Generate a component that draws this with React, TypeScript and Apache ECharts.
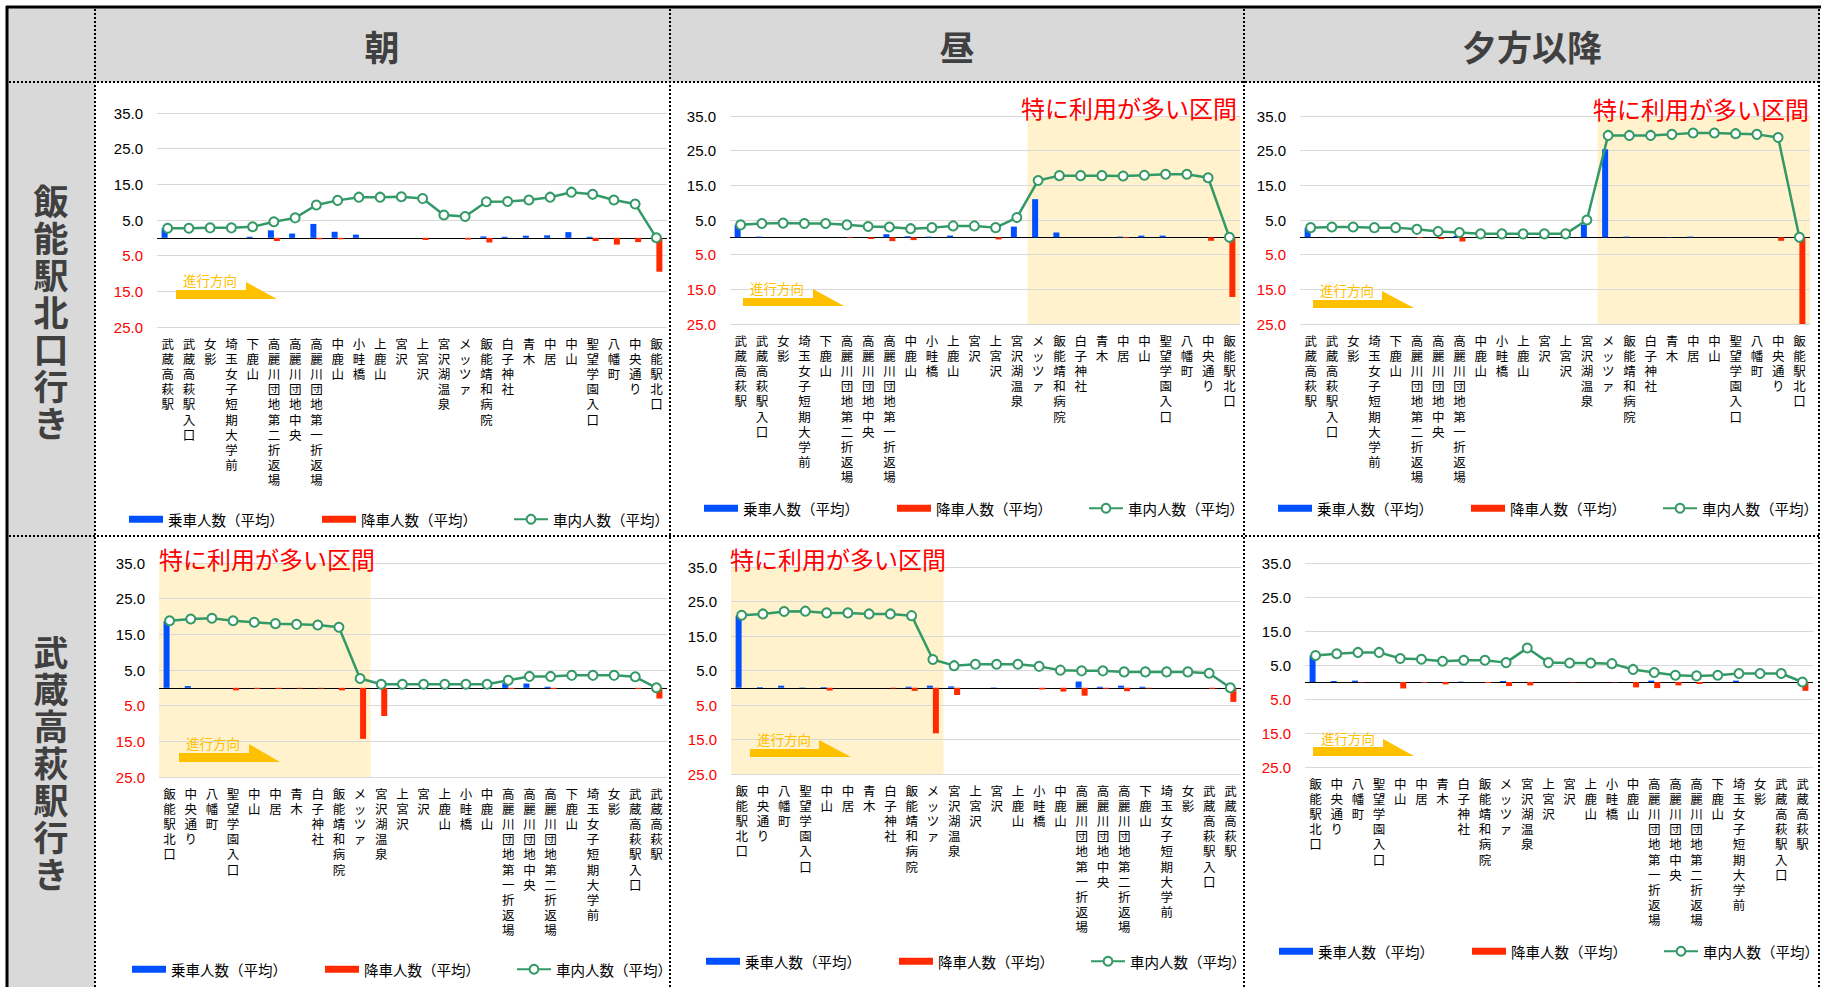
import React, { useEffect, useRef } from 'react';
import * as echarts from 'echarts';

const stationsToHanno = ['武蔵高萩駅','武蔵高萩駅入口','女影','埼玉女子短期大学前','下鹿山','高麗川団地第二折返場','高麗川団地中央','高麗川団地第一折返場','中鹿山','小畦橋','上鹿山','宮沢','上宮沢','宮沢湖温泉','メッツァ','飯能靖和病院','白子神社','青木','中居','中山','聖望学園入口','八幡町','中央通り','飯能駅北口'];
const stationsToMusashi = ['飯能駅北口','中央通り','八幡町','聖望学園入口','中山','中居','青木','白子神社','飯能靖和病院','メッツァ','宮沢湖温泉','上宮沢','宮沢','上鹿山','小畦橋','中鹿山','高麗川団地第一折返場','高麗川団地中央','高麗川団地第二折返場','下鹿山','埼玉女子短期大学前','女影','武蔵高萩駅入口','武蔵高萩駅'];

const timeBands = ['朝', '昼', '夕方以降'];
const directions = ['飯能駅北口行き', '武蔵高萩駅行き'];
const seriesNames = ['乗車人数（平均）', '降車人数（平均）', '車内人数（平均）'];
const yTickLabels = [35, 25, 15, 5, -5, -15, -25];
const highlightLabel = '特に利用が多い区間';
const directionLabel = '進行方向';

// 朝・飯能駅北口行き
const morningHannoLoad = [2.7,2.7,2.8,2.8,3.1,4.5,5.6,9.2,10.5,11.4,11.4,11.5,11.0,6.4,6.0,10.1,10.2,10.6,11.4,12.8,12.2,10.6,9.5,0];
const morningHannoBoard = [2.7,0,0,0,0.3,2.1,1.2,3.9,1.7,0.9,0,0,0,0,0,0.4,0.3,0.6,0.7,1.6,0.3,0,0,0];
const morningHannoAlight = [0,0,0,0,0,0.9,0,0.4,0.4,0,0,0,0.6,0,0.5,1.3,0,0,0,0,0.9,1.9,1.2,9.5];
// 昼・飯能駅北口行き
const noonHannoLoad = [3.6,4.0,4.1,4.0,4.0,3.6,3.1,3.0,2.5,2.8,3.3,3.3,2.8,5.7,16.4,17.8,17.8,17.8,17.7,17.9,18.2,18.2,17.2,0];
const noonHannoBoard = [3.6,0.2,0,0,0,0,0,0.9,0.3,0.2,0.5,0,0,3.1,11.0,1.4,0,0,0.2,0.5,0.5,0,0,0];
const noonHannoAlight = [0,0,0,0,0,0.2,0.5,1.1,0.8,0,0,0,0.6,0,0,0,0,0,0.2,0,0,0,1.0,17.2];
// 夕方以降・飯能駅北口行き
const eveningHannoLoad = [2.8,3.0,3.0,2.8,2.8,2.3,1.7,1.4,1.0,1.0,1.0,1.0,1.0,5.0,29.4,29.4,29.4,29.7,30.1,30.1,29.9,29.7,28.8,0];
const eveningHannoBoard = [2.8,0.1,0,0,0,0,0,0.4,0,0,0,0,0,3.7,25.4,0.2,0,0.1,0.2,0,0,0,0,0];
const eveningHannoAlight = [0,0,0,0,0,0.2,0.5,1.2,0.1,0,0,0,0,0,0,0,0,0,0,0,0,0,1.0,28.8];
// 朝・武蔵高萩駅行き
const morningMusashiLoad = [18.8,19.3,19.5,18.8,18.4,18.0,17.8,17.6,17.0,2.6,1.0,1.0,1.0,1.0,1.0,1.0,2.1,3.2,3.2,3.5,3.5,3.5,3.1,0];
const morningMusashiBoard = [18.7,0.5,0,0,0,0,0,0,0,0,0,0,0,0,0,0,1.3,1.2,0.3,0,0,0,0,0];
const morningMusashiAlight = [0,0,0,0.7,0.3,0.3,0.2,0.2,0.7,14.3,7.9,0,0,0,0,0,0.3,0,0.3,0,0,0,0.3,3.0];
// 昼・武蔵高萩駅行き
const noonMusashiLoad = [21.0,21.4,22.1,22.2,21.7,21.7,21.4,21.4,20.9,8.2,6.4,6.8,6.8,6.8,6.2,5.1,4.9,4.9,4.6,4.6,4.6,4.6,4.2,0];
const noonMusashiBoard = [20.9,0.2,0.6,0.1,0.2,0,0,0,0.3,0.6,0.4,0,0.1,0,0,0,1.8,0.3,0.6,0.3,0,0,0,0];
const noonMusashiAlight = [0,0,0,0,0.8,0,0,0.2,0.9,13.2,2.1,0,0,0,0.5,1.1,2.3,0.3,1.0,0.2,0,0,0.3,4.1];
// 夕方以降・武蔵高萩駅行き
const eveningMusashiLoad = [7.8,8.3,8.7,8.7,6.9,6.7,6.1,6.4,6.4,5.7,10.0,5.7,5.6,5.6,5.4,3.7,2.8,2.0,1.8,2.0,2.5,2.5,2.5,0];
const eveningMusashiBoard = [7.8,0.3,0.4,0,0,0,0,0.1,0,0.3,0,0,0,0,0,0,0.4,0,0,0,0.4,0,0,0];
const eveningMusashiAlight = [0,0,0.1,0,1.9,0.2,0.7,0,0.3,1.2,1.0,0,0.1,0,0.1,1.6,1.8,1.0,0.6,0,0,0,0,2.6];

const BLUE = '#0050FF';
const RED = '#FF2A00';
const GREEN = '#339966';
const ORANGE = '#FFC000';
const JP = '"Noto Sans CJK JP", sans-serif';
const JP_LABEL = '"Liberation Sans", "Noto Sans CJK JP", sans-serif';

const panels = [
  { stations: stationsToHanno, load: morningHannoLoad, board: morningHannoBoard, alight: morningHannoAlight, hl: null,
    grid: { left: 157, top: 113, width: 510, height: 214 }, legend: [129, 520],
    arrow: { l: 176, r: 246, t: 290, b: 299, tt: 282, tip: 277, tx: 183, ty: 280 }, note: null },
  { stations: stationsToHanno, load: noonHannoLoad, board: noonHannoBoard, alight: noonHannoAlight, hl: ['メッツァ', '飯能駅北口'],
    grid: { left: 730, top: 116, width: 510, height: 208 }, legend: [704, 509],
    arrow: { l: 743, r: 813, t: 298, b: 306, tt: 289, tip: 844, tx: 750, ty: 288 }, note: { x: 1237, y: 107, align: 'right' } },
  { stations: stationsToHanno, load: eveningHannoLoad, board: eveningHannoBoard, alight: eveningHannoAlight, hl: ['メッツァ', '飯能駅北口'],
    grid: { left: 1300, top: 116, width: 510, height: 208 }, legend: [1278, 509],
    arrow: { l: 1313, r: 1382, t: 300, b: 308, tt: 291, tip: 1414, tx: 1320, ty: 290 }, note: { x: 1809, y: 108, align: 'right' } },
  { stations: stationsToMusashi, load: morningMusashiLoad, board: morningMusashiBoard, alight: morningMusashiAlight, hl: ['飯能駅北口', 'メッツァ'],
    grid: { left: 159, top: 563, width: 508, height: 214 }, legend: [132, 970],
    arrow: { l: 179, r: 249, t: 753, b: 762, tt: 744, tip: 280, tx: 186, ty: 743 }, note: { x: 159, y: 558, align: 'left' } },
  { stations: stationsToMusashi, load: noonMusashiLoad, board: noonMusashiBoard, alight: noonMusashiAlight, hl: ['飯能駅北口', 'メッツァ'],
    grid: { left: 731, top: 567, width: 510, height: 207 }, legend: [706, 962],
    arrow: { l: 750, r: 819, t: 749, b: 757, tt: 740, tip: 851, tx: 757, ty: 739 }, note: { x: 730, y: 558, align: 'left' } },
  { stations: stationsToMusashi, load: eveningMusashiLoad, board: eveningMusashiBoard, alight: eveningMusashiAlight, hl: null,
    grid: { left: 1305, top: 563, width: 508, height: 204 }, legend: [1279, 952],
    arrow: { l: 1313, r: 1383, t: 747, b: 756, tt: 739, tip: 1414, tx: 1321, ty: 738 }, note: null },
];

const splitColors: string[] = [];
for (let v = -25; v <= 35; v += 5) {
  splitColors.push(yTickLabels.includes(v) ? '#D9D9D9' : v === 0 ? '#000000' : 'transparent');
}

export default function App() {
  const ref = useRef<HTMLDivElement>(null);
  useEffect(() => {
    document.body.style.margin = '0';
    const chart = echarts.init(ref.current!, null, { renderer: 'svg' });
    const grids: any[] = [];
    const xAxes: any[] = [];
    const yAxes: any[] = [];
    const series: any[] = [];
    const legends: any[] = [];
    panels.forEach((p, i) => {
      grids.push({ ...p.grid, containLabel: false });
      xAxes.push({
        type: 'category', gridIndex: i, data: p.stations, boundaryGap: true, position: 'bottom',
        axisLine: { show: false, onZero: false }, axisTick: { show: false },
        axisLabel: { interval: 0, margin: 10, fontSize: 12.5, lineHeight: 15.2, color: '#000', fontFamily: JP_LABEL,
          formatter: (s: string) => s.split('').join('\n') },
      });
      yAxes.push({
        type: 'value', gridIndex: i, min: -25, max: 35, interval: 5,
        axisLine: { show: false }, axisTick: { show: false },
        axisLabel: { margin: 14, fontSize: 15, fontFamily: '"Liberation Sans", Arial, sans-serif',
          color: (v: any) => (Number(v) < 0 ? '#FF0000' : '#000000'),
          formatter: (v: number) => (yTickLabels.includes(Number(v)) ? Math.abs(Number(v)).toFixed(1) : '') },
        splitLine: { show: true, lineStyle: { color: splitColors, width: 1 } },
      });
      series.push({ name: seriesNames[0], type: 'bar', xAxisIndex: i, yAxisIndex: i, data: p.board,
        barWidth: 6, barGap: '0%', itemStyle: { color: BLUE }, clip: true, z: 3 });
      series.push({ name: seriesNames[1], type: 'bar', xAxisIndex: i, yAxisIndex: i, data: p.alight.map((v) => -v),
        barWidth: 6, barGap: '0%', itemStyle: { color: RED }, clip: true, z: 3 });
      series.push({ name: seriesNames[2], type: 'line', xAxisIndex: i, yAxisIndex: i, data: p.load,
        symbol: 'emptyCircle', symbolSize: 9, lineStyle: { color: GREEN, width: 2.5 },
        itemStyle: { color: GREEN, borderWidth: 2.2 }, z: 4 });
      legends.push({ data: [seriesNames[0], seriesNames[1]], left: p.legend[0], top: p.legend[1] - 8, padding: 0,
        itemWidth: 34, itemHeight: 7, itemGap: 38, icon: 'rect',
        textStyle: { fontSize: 14.5, color: '#000', fontFamily: JP }, selectedMode: false });
      legends.push({ data: [seriesNames[2]], left: p.legend[0] + 384, top: p.legend[1] - 8, padding: 0,
        itemWidth: 34, itemHeight: 11, textStyle: { fontSize: 14.5, color: '#000', fontFamily: JP }, selectedMode: false });
    });

    chart.setOption({
      animation: false,
      backgroundColor: '#fff',
      textStyle: { fontFamily: JP },
      grid: grids, xAxis: xAxes, yAxis: yAxes, series, legend: legends,
    });

    const els: any[] = [];
    els.push({ type: 'rect', z: -5, shape: { x: 7, y: 7, width: 1813, height: 75 }, style: { fill: '#D9D9D9' } });
    els.push({ type: 'rect', z: -5, shape: { x: 7, y: 82, width: 88, height: 905 }, style: { fill: '#D9D9D9' } });
    panels.forEach((p, i) => {
      if (!p.hl) return;
      const a = p.stations.indexOf(p.hl[0]);
      const b = p.stations.indexOf(p.hl[1]);
      const pa = chart.convertToPixel({ gridIndex: i } as any, [a, 35]) as number[];
      const pa2 = chart.convertToPixel({ gridIndex: i } as any, [a + 1, -25]) as number[];
      const pb = chart.convertToPixel({ gridIndex: i } as any, [b, -25]) as number[];
      const bw = pa2[0] - pa[0];
      const x0 = pa[0] - bw / 2;
      const x1 = pb[0] + bw / 2;
      els.push({ type: 'rect', z: -1, shape: { x: x0, y: pa[1], width: x1 - x0, height: pb[1] - pa[1] }, style: { fill: '#FFF2CC' } });
    });
    els.push({ type: 'line', z: 20, shape: { x1: 7, y1: 6, x2: 7, y2: 987 }, style: { stroke: '#000', lineWidth: 3 } });
    els.push({ type: 'line', z: 20, shape: { x1: 6, y1: 7, x2: 1821, y2: 7 }, style: { stroke: '#000', lineWidth: 3 } });
    [95, 670, 1244, 1819].forEach((x) => {
      els.push({ type: 'line', z: 20, shape: { x1: x, y1: 9, x2: x, y2: 987 }, style: { stroke: '#000', lineWidth: 2, lineDash: [2, 2] } });
    });
    [82, 536].forEach((y) => {
      els.push({ type: 'line', z: 20, shape: { x1: 9, y1: y, x2: 1820, y2: y }, style: { stroke: '#000', lineWidth: 2, lineDash: [2, 2] } });
    });
    const colCenters = [382, 957, 1532];
    timeBands.forEach((t, i) => {
      els.push({ type: 'text', z: 20, x: colCenters[i], y: 45, style: { text: t, font: 'bold 35px "Noto Sans CJK JP"', fill: '#404040', textAlign: 'center', textVerticalAlign: 'middle' } });
    });
    const rowCenters = [310, 761];
    directions.forEach((d, i) => {
      els.push({ type: 'text', z: 20, x: 51, y: rowCenters[i], style: { text: d.split('').join('\n'), font: 'bold 35px "Noto Sans CJK JP"', lineHeight: 37, fill: '#404040', textAlign: 'center', textVerticalAlign: 'middle' } });
    });
    panels.forEach((p) => {
      const a = p.arrow;
      els.push({ type: 'polygon', z: 10, shape: { points: [[a.l, a.t], [a.r, a.t], [a.r, a.tt], [a.tip, a.b], [a.l, a.b]] }, style: { fill: ORANGE } });
      els.push({ type: 'text', z: 10, x: a.tx, y: a.ty, style: { text: directionLabel, font: '13.5px "Noto Sans CJK JP"', fill: ORANGE, textAlign: 'left', textVerticalAlign: 'middle' } });
      if (p.note) {
        els.push({ type: 'text', z: 10, x: p.note.x, y: p.note.y, style: { text: highlightLabel, font: '24px "Noto Sans CJK JP"', fill: '#FF0000', textAlign: p.note.align, textVerticalAlign: 'middle' } });
      }
    });
    chart.setOption({ graphic: { elements: els } });
    return () => chart.dispose();
  }, []);
  return <div ref={ref} style={{ position: 'absolute', left: 0, top: 0, width: 1823, height: 987 }} />;
}
